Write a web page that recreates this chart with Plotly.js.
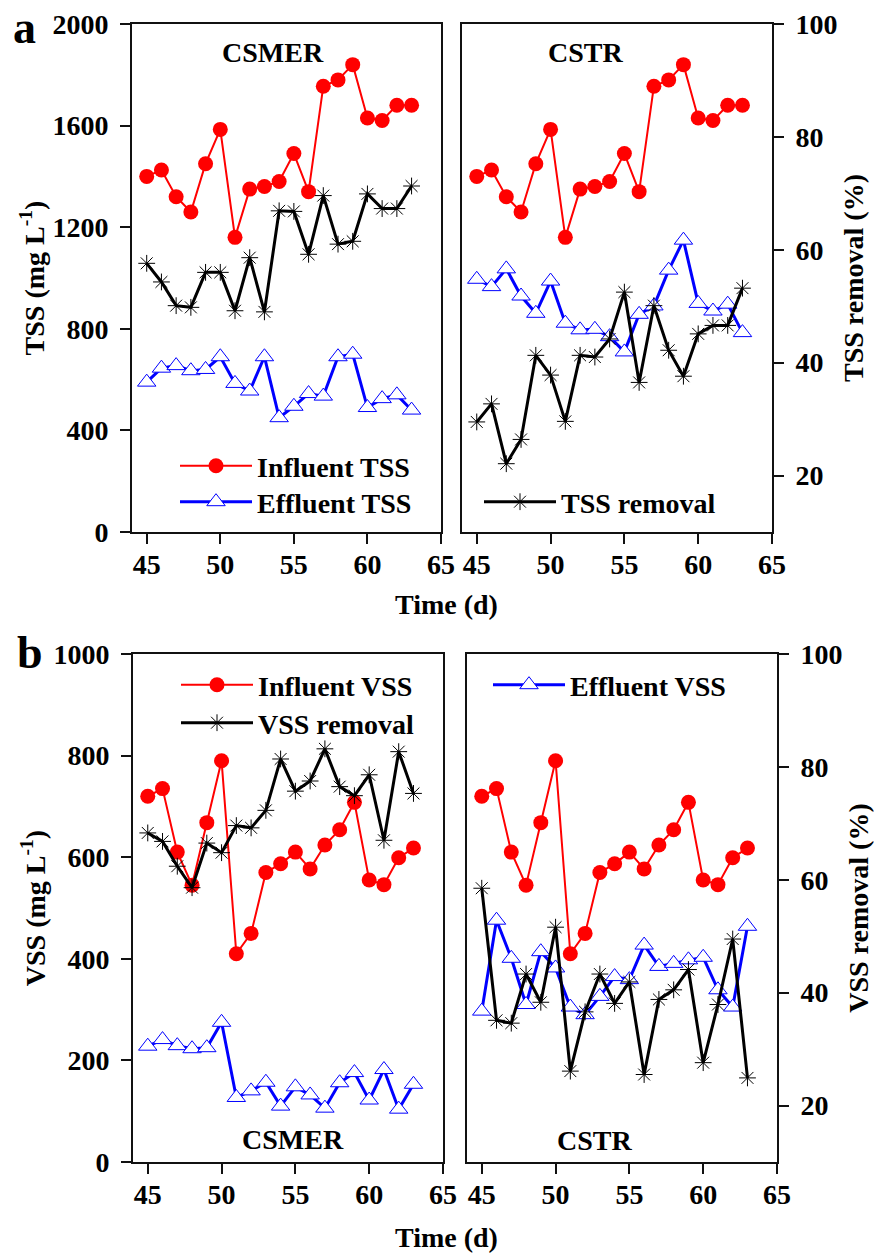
<!DOCTYPE html>
<html>
<head>
<meta charset="utf-8">
<script src="https://cdn.plot.ly/plotly-3.0.1.min.js"></script>
<style>html,body{margin:0;padding:0;background:#fff;}#chart{width:874px;height:1253px;}</style>
</head>
<body>
<div id="chart"></div>
<script>
// ---------- data ----------
const days = [45,46,47,48,49,50,51,52,53,54,55,56,57,58,59,60,61,62,63];

const tssInfluent = [1400,1425,1320,1260,1450,1585,1160,1350,1360,1380,1490,1340,1755,1780,1840,1630,1620,1680,1680];
const tssEffluentCSMER = [590,645,655,635,640,690,585,555,690,450,495,545,535,690,700,490,525,540,480];
const tssRemovalCSMER = [57.6,54.3,50.1,49.8,56.0,56.0,49.2,58.6,49.0,66.9,66.8,59.2,69.6,61.0,61.5,69.9,67.3,67.3,71.3];
const tssEffluentCSTR = [995,966,1036,929,861,988,822,796,798,769,709,857,890,1031,1149,900,870,897,785];
const tssRemovalCSTR = [29.5,32.7,22.1,26.4,41.3,37.8,29.6,41.3,41.0,44.2,52.5,36.5,50.1,42.2,37.6,45.1,46.6,46.6,53.2];

const vssInfluent = [720,735,610,545,668,790,410,450,570,587,610,577,624,654,708,555,546,599,618];
const vssEffluentCSMER = [228,241,229,223,225,275,127,140,157,110,148,132,106,156,176,122,182,104,153];
const vssRemovalCSMER = [68.3,66.8,62.4,58.6,66.5,64.8,69.6,69.2,72.3,81.4,75.7,77.5,83.2,76.5,74.9,78.6,67.0,82.7,75.3];
const vssEffluentCSTR = [297,476,401,310,414,382,305,290,326,365,359,427,385,391,398,403,339,305,464];
const vssRemovalCSTR = [58.5,35.1,34.6,43.3,38.3,51.6,26.1,36.6,43.3,38.1,41.9,25.5,38.8,40.5,44.1,27.6,37.9,49.5,24.9];

const xTicks = [45,50,55,60,65];
const tssTicks = [0,400,800,1200,1600,2000];
const vssTicks = [0,200,400,600,800,1000];
const removalTicks = [20,40,60,80,100];

// ---------- styling / layout helpers ----------
const W = 874, H = 1253;
const px = v => v / W;
const py = v => 1 - v / H;
const FAM = '"Liberation Serif", "Times New Roman", Times, serif';
const bold = (size) => ({family: FAM, size: size, color: '#000', weight: 'bold'});

const inflStyle = {mode:'lines+markers', line:{color:'#ff0000', width:2},
  marker:{symbol:'circle', size:15, color:'#ff0000'}};
const effStyle = {mode:'lines+markers', line:{color:'#0000ff', width:3},
  marker:{symbol:'triangle-up', size:16, color:'#ffffff', line:{color:'#0000ff', width:1}}};
const remStyle = {mode:'lines+markers', line:{color:'#000000', width:3},
  marker:{symbol:'asterisk-open', size:14, color:'#000000', line:{color:'#222222', width:1}}};

function tr(style, name, x, y, xa, ya, legend, show) {
  return Object.assign({}, JSON.parse(JSON.stringify(style)),
    {x: x, y: y, xaxis: xa, yaxis: ya, name: name, legend: legend, showlegend: show, hoverinfo: 'x+y+name'});
}

const traces = [
  // a) CSMER
  tr(inflStyle, 'Influent TSS', days, tssInfluent, 'x', 'y', 'legend', true),
  tr(effStyle, 'Effluent TSS', days, tssEffluentCSMER, 'x', 'y', 'legend2', true),
  tr(remStyle, 'TSS removal', days, tssRemovalCSMER, 'x', 'y2', 'legend3', false),
  // a) CSTR
  tr(inflStyle, 'Influent TSS', days, tssInfluent, 'x2', 'y3', 'legend', false),
  tr(effStyle, 'Effluent TSS', days, tssEffluentCSTR, 'x2', 'y3', 'legend2', false),
  tr(remStyle, 'TSS removal', days, tssRemovalCSTR, 'x2', 'y4', 'legend3', true),
  // b) CSMER
  tr(inflStyle, 'Influent VSS', days, vssInfluent, 'x3', 'y5', 'legend4', true),
  tr(effStyle, 'Effluent VSS', days, vssEffluentCSMER, 'x3', 'y5', 'legend6', false),
  tr(remStyle, 'VSS removal', days, vssRemovalCSMER, 'x3', 'y6', 'legend5', true),
  // b) CSTR
  tr(inflStyle, 'Influent VSS', days, vssInfluent, 'x4', 'y7', 'legend4', false),
  tr(effStyle, 'Effluent VSS', days, vssEffluentCSTR, 'x4', 'y7', 'legend6', true),
  tr(remStyle, 'VSS removal', days, vssRemovalCSTR, 'x4', 'y8', 'legend5', false)
];

const baseAxis = {showgrid:false, zeroline:false, showline:true, linecolor:'#111', linewidth:2,
  mirror:true, ticks:'outside', ticklen:10, tickwidth:2, tickcolor:'#111', tickfont:bold(28)};

function xAxis(domain, anchor) {
  return Object.assign({}, baseAxis, {domain: domain, anchor: anchor, range:[44,65],
    tickmode:'array', tickvals:xTicks, ticktext:xTicks.map(String), ticklabelstandoff:-4});
}
function leftAxis(domain, anchor, range, ticks, title) {
  return Object.assign({}, baseAxis, {domain: domain, anchor: anchor, range: range,
    tickmode:'array', tickvals: ticks, ticktext: ticks.map(String), ticklabelstandoff:6,
    title:{text: title, font: bold(28), standoff: 0}});
}
function hiddenLeft(domain, anchor, range) {
  return Object.assign({}, baseAxis, {domain: domain, anchor: anchor, range: range,
    ticks:'', showticklabels:false});
}
function rightAxis(over, anchor, title) {
  return Object.assign({}, baseAxis, {overlaying: over, anchor: anchor, side:'right', range:[10,100],
    mirror:false, tickmode:'array', tickvals: removalTicks, ticktext: removalTicks.map(String),
    ticklabelstandoff:6, title:{text: title, font: bold(28), standoff: 7}});
}
function ghostAxis(over) {
  return {overlaying: over, range:[10,100], visible:false};
}

const topY = [py(532), py(24)];
const botY = [py(1162), py(654)];

const legendBase = {font: bold(28), bgcolor:'rgba(0,0,0,0)', borderwidth:0, xanchor:'left', yanchor:'top',
  itemwidth:72, tracegroupgap:0, traceorder:'normal', itemclick:false, itemdoubleclick:false};
const leg = (x, yTop) => Object.assign({}, legendBase, {x: px(x), y: py(yTop)});

const ann = (text, x, y, size) => ({text: text, x: px(x), y: py(y), xref:'paper', yref:'paper',
  showarrow:false, font: bold(size), xanchor:'center', yanchor:'middle'});

const layout = {
  width: W, height: H,
  margin: {l:0, r:0, t:0, b:0},
  paper_bgcolor:'#fff', plot_bgcolor:'#fff',
  font: bold(28),
  xaxis: xAxis([px(132), px(441)], 'y'),
  yaxis: leftAxis(topY, 'x', [0,2000], tssTicks, 'TSS (mg L<sup>-1</sup>)'),
  yaxis2: ghostAxis('y'),
  xaxis2: xAxis([px(462), px(772)], 'y3'),
  yaxis3: hiddenLeft(topY, 'x2', [0,2000]),
  yaxis4: rightAxis('y3', 'x2', 'TSS removal (%)'),
  xaxis3: xAxis([px(133), px(443)], 'y5'),
  yaxis5: leftAxis(botY, 'x3', [0,1000], vssTicks, 'VSS (mg L<sup>-1</sup>)'),
  yaxis6: ghostAxis('y5'),
  xaxis4: xAxis([px(467), px(777)], 'y7'),
  yaxis7: hiddenLeft(botY, 'x4', [0,1000]),
  yaxis8: rightAxis('y7', 'x4', 'VSS removal (%)'),
  legend: leg(175, 441),
  legend2: leg(175, 477),
  legend3: leg(479, 477),
  legend4: leg(176, 660),
  legend5: leg(176, 698),
  legend6: leg(488, 660),
  annotations: [
    ann('a', 24, 28, 46),
    ann('b', 30, 652, 46),
    ann('CSMER', 273, 52, 28),
    ann('CSTR', 585, 52, 28),
    ann('CSMER', 293, 1139, 28),
    ann('CSTR', 594, 1140, 28),
    ann('Time (d)', 446, 604, 28),
    ann('Time (d)', 446, 1237, 28)
  ],
  showlegend: true
};

Plotly.newPlot('chart', traces, layout, {staticPlot:true, displayModeBar:false});
</script>
</body>
</html>
